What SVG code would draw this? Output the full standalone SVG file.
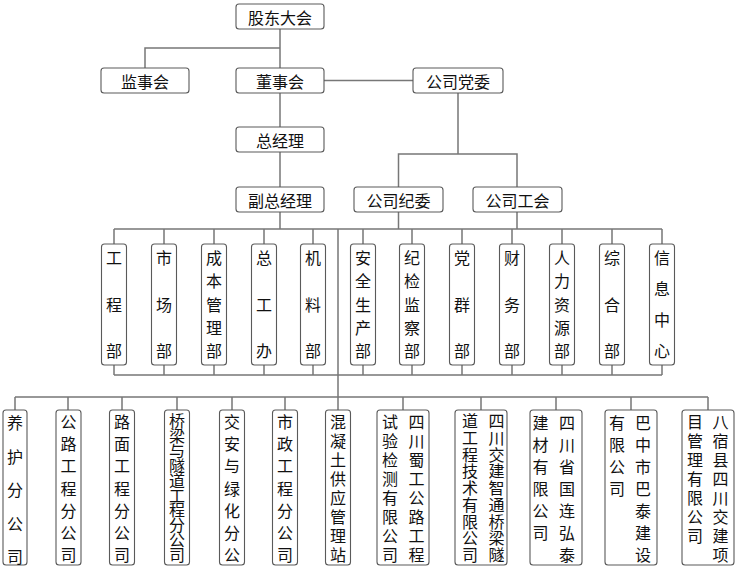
<svg xmlns="http://www.w3.org/2000/svg" width="750" height="570" viewBox="0 0 750 570">
<style>
.b{fill:#fff;stroke:#5a5a5a;stroke-width:1.1}
.t{font-family:"Noto Sans CJK SC","Noto Sans",sans-serif;font-size:16px;fill:#111;text-anchor:middle;dominant-baseline:central}
.v{font-family:"Noto Sans CJK SC","Noto Sans",sans-serif;font-size:16px;fill:#111;writing-mode:vertical-rl;text-orientation:upright;text-anchor:start;dominant-baseline:central}
.c{fill:none;stroke:#777;stroke-width:1.5}
</style>
<rect width="750" height="570" fill="#fff"/>
<g id="connectors" class="c">
<path d="M280 29V68M145 68V48H280M280 93V127M280 152V187M280 212V229M324 80.5H413"/>
<path d="M458 93V154M398.5 187V154H517V187M398.5 212V229M517 212V229"/>
<path d="M114 229H662M114 244V229M164 244V229M214 244V229M264 244V229M313 244V229M363 244V229M412 244V229M462 244V229M512 244V229M562 244V229M612 244V229M662 244V229"/>
<path d="M114 375H662M114 365V375M164 365V375M214 365V375M264 365V375M313 365V375M363 365V375M412 365V375M462 365V375M512 365V375M562 365V375M612 365V375M662 365V375"/>
<path d="M338 229V410M15 397H708M15 397V410M68 397V410M122 397V410M177 397V410M232 397V410M285 397V410M403 397V410M481 397V410M556 397V410M631 397V410M708 397V410"/>
</g>
<g id="gudong"><rect class="b" x="236" y="4" width="88" height="25" rx="3"/><text class="t" x="280" y="16.5">股东大会</text></g>
<g id="jianshi"><rect class="b" x="101" y="68" width="88" height="25" rx="3"/><text class="t" x="145" y="80.5">监事会</text></g>
<g id="dongshi"><rect class="b" x="236" y="68" width="88" height="25" rx="3"/><text class="t" x="280" y="80.5">董事会</text></g>
<g id="dangwei"><rect class="b" x="413" y="68" width="90" height="25" rx="3"/><text class="t" x="458" y="80.5">公司党委</text></g>
<g id="zongjingli"><rect class="b" x="236" y="127" width="88" height="25" rx="3"/><text class="t" x="280" y="139.5">总经理</text></g>
<g id="fuzong"><rect class="b" x="236" y="187" width="88" height="25" rx="3"/><text class="t" x="280" y="199.5">副总经理</text></g>
<g id="jiwei"><rect class="b" x="354" y="187" width="89" height="25" rx="3"/><text class="t" x="398.5" y="199.5">公司纪委</text></g>
<g id="gonghui"><rect class="b" x="473" y="187" width="89" height="25" rx="3"/><text class="t" x="517.5" y="199.5">公司工会</text></g>

<g id="d1"><rect class="b" x="101.5" y="244" width="25" height="121" rx="3"/><text class="v" x="114" y="250" letter-spacing="30.5">工程部</text></g>
<g id="d2"><rect class="b" x="151.5" y="244" width="25" height="121" rx="3"/><text class="v" x="164" y="250" letter-spacing="30.5">市场部</text></g>
<g id="d3"><rect class="b" x="201.5" y="244" width="25" height="121" rx="3"/><text class="v" x="214" y="250" letter-spacing="7.25">成本管理部</text></g>
<g id="d4"><rect class="b" x="251.5" y="244" width="25" height="121" rx="3"/><text class="v" x="264" y="250" letter-spacing="30.5">总工办</text></g>
<g id="d5"><rect class="b" x="300.5" y="244" width="25" height="121" rx="3"/><text class="v" x="313" y="250" letter-spacing="30.5">机料部</text></g>
<g id="d6"><rect class="b" x="350.5" y="244" width="25" height="121" rx="3"/><text class="v" x="363" y="250" letter-spacing="7.25">安全生产部</text></g>
<g id="d7"><rect class="b" x="399.5" y="244" width="25" height="121" rx="3"/><text class="v" x="412" y="250" letter-spacing="7.25">纪检监察部</text></g>
<g id="d8"><rect class="b" x="449.5" y="244" width="25" height="121" rx="3"/><text class="v" x="462" y="250" letter-spacing="30.5">党群部</text></g>
<g id="d9"><rect class="b" x="499.5" y="244" width="25" height="121" rx="3"/><text class="v" x="512" y="250" letter-spacing="30.5">财务部</text></g>
<g id="d10"><rect class="b" x="549.5" y="244" width="25" height="121" rx="3"/><text class="v" x="562" y="250" letter-spacing="7.25">人力资源部</text></g>
<g id="d11"><rect class="b" x="599.5" y="244" width="25" height="121" rx="3"/><text class="v" x="612" y="250" letter-spacing="30.5">综合部</text></g>
<g id="d12"><rect class="b" x="649.5" y="244" width="25" height="121" rx="3"/><text class="v" x="662" y="250" letter-spacing="15">信息中心</text></g>

<g id="s1"><rect class="b" x="3" y="410" width="24" height="155" rx="3"/><text class="v" x="15" y="415"><tspan letter-spacing="17.5">养护分公</tspan><tspan letter-spacing="0">司</tspan></text></g>
<g id="s2"><rect class="b" x="56" y="410" width="25" height="155" rx="3"/><text class="v" x="68.5" y="414" letter-spacing="6.17">公路工程分公司</text></g>
<g id="s3"><rect class="b" x="109.5" y="410" width="25" height="155" rx="3"/><text class="v" x="122" y="414" letter-spacing="6.17">路面工程分公司</text></g>
<g id="s4"><rect class="b" x="164.5" y="410" width="25" height="155" rx="3"/><text class="v" x="177" y="413" letter-spacing="-1.1">桥梁与隧道工程分公司</text></g>
<g id="s5"><rect class="b" x="219.5" y="410" width="25" height="155" rx="3"/><text class="v" x="232" y="414" letter-spacing="6.17">交安与绿化分公</text></g>
<g id="s6"><rect class="b" x="272.5" y="410" width="25" height="155" rx="3"/><text class="v" x="285" y="414" letter-spacing="6.17">市政工程分公司</text></g>
<g id="s7"><rect class="b" x="325.5" y="410" width="25" height="155" rx="3"/><text class="v" x="338" y="414" letter-spacing="3">混凝土供应管理站</text></g>
<g id="s8"><rect class="b" x="377" y="410" width="52" height="155" rx="3"/><text class="v" x="416.5" y="414" letter-spacing="3">四川蜀工公路工程</text><text class="v" x="390" y="414" letter-spacing="3">试验检测有限公司</text></g>
<g id="s9"><rect class="b" x="455" y="410" width="52" height="155" rx="3"/><text class="v" x="496.5" y="413" letter-spacing="0.75">四川交建智通桥梁隧</text><text class="v" x="470" y="413" letter-spacing="0.75">道工程技术有限公司</text></g>
<g id="s10"><rect class="b" x="530" y="410" width="52" height="155" rx="3"/><text class="v" x="567" y="415" letter-spacing="6">四川省国连弘泰</text><text class="v" x="540.5" y="415" letter-spacing="6">建材有限公司</text></g>
<g id="s11"><rect class="b" x="605" y="410" width="52" height="155" rx="3"/><text class="v" x="643" y="415" letter-spacing="6">巴中市巴泰建设</text><text class="v" x="617" y="415" letter-spacing="6">有限公司</text></g>
<g id="s12"><rect class="b" x="682" y="410" width="52" height="155" rx="3"/><text class="v" x="720.5" y="414" letter-spacing="3">八宿县四川交建项</text><text class="v" x="695" y="414" letter-spacing="3">目管理有限公司</text></g>
</svg>
